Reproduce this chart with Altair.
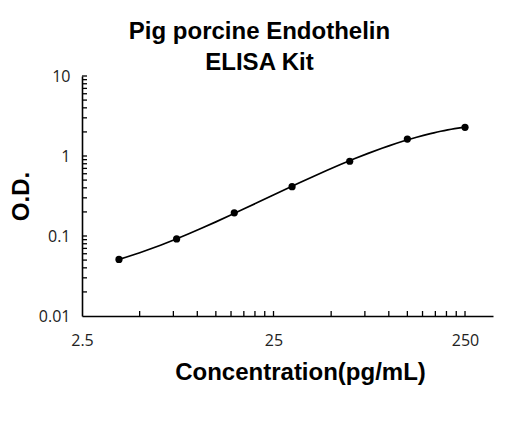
import altair as alt
import pandas as pd

# data
conc = [3.9, 7.8, 15.6, 31.25, 62.5, 125, 250]
od = [0.051, 0.092, 0.195, 0.413, 0.86, 1.63, 2.28]

x_tick_vals = [5, 7.5, 10, 12.5, 15, 17.5, 20, 22.5, 25, 50, 75, 100, 125, 150, 175, 200, 225, 250]
y_tick_vals = [0.02, 0.03, 0.04, 0.05, 0.06, 0.07, 0.08, 0.09, 0.1,
               0.2, 0.3, 0.4, 0.5, 0.6, 0.7, 0.8, 0.9, 1,
               2, 3, 4, 5, 6, 7, 8, 9, 10]
x_label_vals = [2.5, 25, 250]
y_label_vals = [0.01, 0.1, 1, 10]

df = pd.DataFrame({"conc": conc, "od": od})
xt = pd.DataFrame({"conc": x_tick_vals})
yt = pd.DataFrame({"od": y_tick_vals})

W, H = 411, 240
xscale = alt.Scale(type="log", domain=[2.5, 350], nice=False)
yscale = alt.Scale(type="log", domain=[0.01, 10], nice=False)

label_font = "Open Sans"
bold_font = "Liberation Sans"

xaxis = alt.Axis(values=x_label_vals, format="~g", title="Concentration(pg/mL)",
                 grid=False, ticks=False, domainColor="black", domainWidth=1.6,
                 labelFont=label_font, labelFontSize=16, labelColor="#222",
                 labelPadding=16, labelFlush=False,
                 titleFont=bold_font, titleFontSize=24, titleFontWeight="bold",
                 titleColor="black", titlePadding=12, titleX=218)
yaxis = alt.Axis(values=y_label_vals, format="~g", title="O.D.",
                 grid=False, ticks=False, domainColor="black", domainWidth=1.6,
                 labelFont=label_font, labelFontSize=16, labelColor="#222",
                 labelPadding=12, labelFlush=False,
                 titleFont=bold_font, titleFontSize=24, titleFontWeight="bold",
                 titleColor="black", titlePadding=5)

X = alt.X("conc:Q", scale=xscale, axis=xaxis)
Y = alt.Y("od:Q", scale=yscale, axis=yaxis)

points = alt.Chart(df).mark_point(filled=True, size=52, color="black", opacity=1).encode(x=X, y=Y)

curve = alt.Chart(df).transform_calculate(
    lx="log(datum.conc)/LN10", ly="log(datum.od)/LN10"
).transform_regression("lx", "ly", method="poly", order=3).transform_calculate(
    conc="pow(10, datum.lx)", od="pow(10, datum.ly)"
).mark_line(color="black", strokeWidth=1.7).encode(x=X, y=Y)

xticks = alt.Chart(xt).mark_rule(color="black", strokeWidth=1.3).encode(
    x=X, y=alt.value(H), y2=alt.value(H - 5),
)
yticks = alt.Chart(yt).mark_rule(color="black", strokeWidth=1.3).encode(
    y=Y, x=alt.value(0), x2=alt.value(5),
)

chart = alt.layer(curve, xticks, yticks, points).properties(
    width=W, height=H,
    autosize=alt.AutoSizeParams(type="none"),
    padding={"left": 74, "top": 68, "right": 15, "bottom": 80},
    title=alt.TitleParams(
        text=["Pig porcine Endothelin", "ELISA Kit"],
        font=bold_font, fontSize=24, fontWeight="bold", color="black",
        lineHeight=31, anchor="middle", frame="group", dx=-28, offset=-7,
    ),
).configure(background="white").configure_view(stroke=None)

chart.save("out.html", embed_options={"renderer": "svg", "actions": False})
